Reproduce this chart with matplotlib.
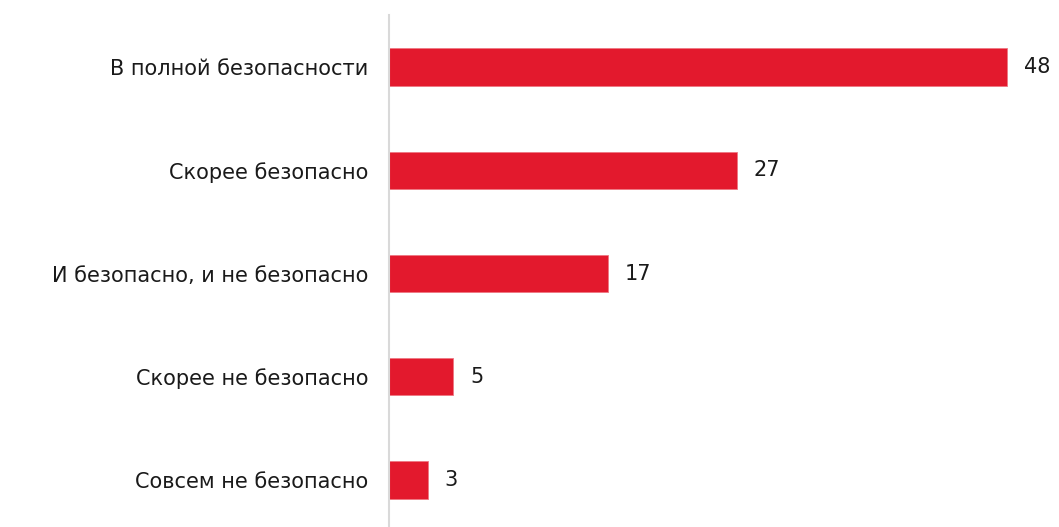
import matplotlib.pyplot as plt

plt.rcParams['font.family'] = ['DejaVu Sans']

categories = ["В полной безопасности", "Скорее безопасно", "И безопасно, и не безопасно",
              "Скорее не безопасно", "Совсем не безопасно"]
values = [48, 27, 17, 5, 3]

fig = plt.figure(figsize=(10.59, 5.27), dpi=100)
ax = fig.add_axes([389 / 1059, 0, 1 - 389 / 1059, 1 - 15 / 527])

pos = list(range(len(categories)))
ax.barh(pos, values, height=0.36, color='#E3192D', edgecolor='#EE7783', linewidth=0.6)

# подписи значений справа от столбцов
for p, v in zip(pos, values):
    ax.text(v + 1.3, p, str(v), va='center', ha='left', fontsize=15, color='#1a1a1a')

ax.set_xlim(0, 52)
ax.set_ylim(4.455, -0.504)
ax.set_yticks(pos)
ax.set_yticklabels(categories, fontsize=15, color='#1a1a1a')
ax.tick_params(axis='y', length=0, pad=15)
ax.set_xticks([])

for s in ['top', 'right', 'bottom']:
    ax.spines[s].set_visible(False)
ax.spines['left'].set_color('#D9D9D9')
ax.spines['left'].set_linewidth(1.5)

fig.savefig('out.png', dpi=100)
